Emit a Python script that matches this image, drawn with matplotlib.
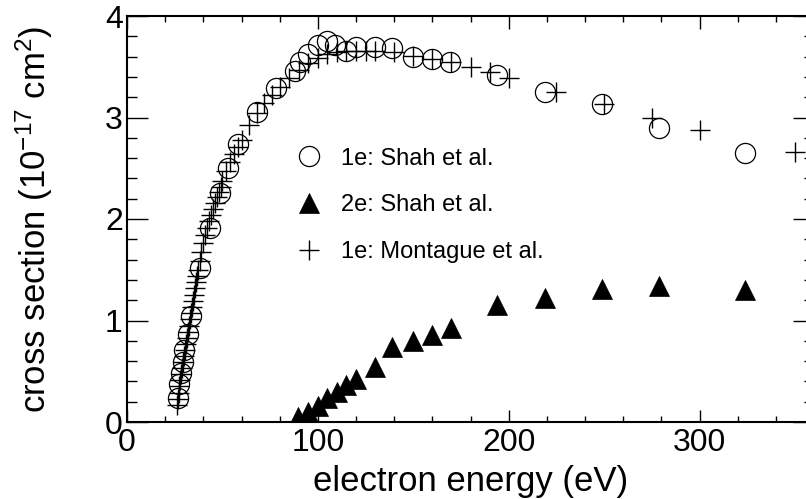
import numpy as np
import matplotlib
matplotlib.use("Agg")
import matplotlib.pyplot as plt
from matplotlib.ticker import MultipleLocator

plt.rcParams["font.family"] = ["Liberation Sans", "DejaVu Sans"]
plt.rcParams["mathtext.default"] = "regular"

# 1e: Shah et al. (open circles)
shah1_e = [26.8, 27.4, 28.4, 29.2, 30.0, 32.0, 33.5, 38.2, 43.5, 48.7, 53, 58, 68, 78,
           88, 90.6, 95, 100, 104.7, 109, 115, 120, 130, 139, 150, 160, 169,
           194, 219, 249, 279, 324]
shah1_cs = [0.24, 0.37, 0.48, 0.59, 0.71, 0.87, 1.04, 1.52, 1.91, 2.26, 2.50, 2.74, 3.05, 3.29,
            3.46, 3.55, 3.63, 3.71, 3.75, 3.71, 3.66, 3.69, 3.69, 3.68, 3.60, 3.58, 3.55,
            3.42, 3.25, 3.13, 2.90, 2.65]

# 2e: Shah et al. (filled triangles)
shah2_e = [89.5, 95, 100, 105, 110, 115, 120, 130, 139, 150, 160, 170, 194, 219, 249, 279, 324]
shah2_cs = [0.05, 0.10, 0.16, 0.24, 0.30, 0.36, 0.42, 0.54, 0.74, 0.80, 0.86, 0.93,
            1.15, 1.22, 1.31, 1.34, 1.30]

# 1e: Montague et al. (crosses)
mont_e = [26.0, 26.5, 27.0, 27.5, 28.0, 28.5, 29.0, 29.5, 30.0, 30.5, 31.0, 31.5,
          32.0, 32.5, 33.0, 33.5, 34.0, 34.5, 35.0, 35.5, 36.0, 36.5, 37.0,
          38, 39, 40, 41, 42, 43, 44, 45, 46, 47, 48, 49, 50,
          52, 54, 56, 58, 60, 64, 68, 72, 76, 80,
          85, 90, 95, 100, 105, 110, 115, 120, 125, 130,
          140, 150, 160, 170, 180, 190, 200, 225, 250, 275, 300, 350]
mont_cs = [0.17, 0.23, 0.29, 0.35, 0.41, 0.47, 0.53, 0.59, 0.65, 0.71, 0.77, 0.83,
           0.89, 0.95, 1.01, 1.07, 1.13, 1.19, 1.25, 1.32, 1.38, 1.44, 1.50,
           1.59, 1.67, 1.76, 1.84, 1.91, 1.98, 2.04, 2.10, 2.16, 2.22, 2.27, 2.32, 2.37,
           2.47, 2.56, 2.64, 2.71, 2.78, 2.93, 3.04, 3.14, 3.22, 3.30,
           3.39, 3.47, 3.54, 3.59, 3.63, 3.65, 3.66, 3.66, 3.66, 3.66,
           3.65, 3.61, 3.58, 3.55, 3.50, 3.45, 3.39, 3.25, 3.13, 3.00, 2.88, 2.66]

fig = plt.figure(figsize=(8.06, 4.99), dpi=100)
# right edge of the frame sits just past the image border, as in the reference
ax = fig.add_axes([127 / 806, 77 / 499, 687 / 806, 406 / 499])

ms = 14.5
ax.plot(shah1_e, shah1_cs, ls="none", marker="o", ms=ms, mfc="none", mec="black",
        mew=0.9, label="1e: Shah et al.")
ax.plot(shah2_e, shah2_cs, ls="none", marker="^", ms=ms, mfc="black", mec="black",
        mew=0.5, label="2e: Shah et al.")
ax.plot(mont_e, mont_cs, ls="none", marker="+", ms=ms, mec="black",
        mew=1.0, label="1e: Montague et al.")

ax.set_xlim(0, 360)
ax.set_ylim(0, 4)
ax.xaxis.set_major_locator(MultipleLocator(100))
ax.xaxis.set_minor_locator(MultipleLocator(20))
ax.yaxis.set_major_locator(MultipleLocator(1))
ax.yaxis.set_minor_locator(MultipleLocator(0.2))

ax.tick_params(axis="both", which="both", direction="in", top=True, right=True,
               width=1.0, labelsize=23, colors="black")
ax.tick_params(axis="x", which="major", length=9, pad=4)
ax.tick_params(axis="x", which="minor", length=4.5)
ax.tick_params(axis="y", which="major", length=15, pad=3)
ax.tick_params(axis="y", which="minor", length=7.5)
for sp in ax.spines.values():
    sp.set_linewidth(1.5)

ax.set_xlabel("electron energy (eV)", fontsize=25, labelpad=5)
ax.set_ylabel("cross section (10$^{-17}$ cm$^{2}$)", fontsize=25, labelpad=36)

ax.legend(loc="upper left", bbox_to_anchor=(0.248, 0.676), frameon=False,
          fontsize=17, numpoints=1, handlelength=1.0, handletextpad=0.86,
          labelspacing=1.05, borderpad=0, borderaxespad=0)

fig.savefig("out.png", dpi=100)
